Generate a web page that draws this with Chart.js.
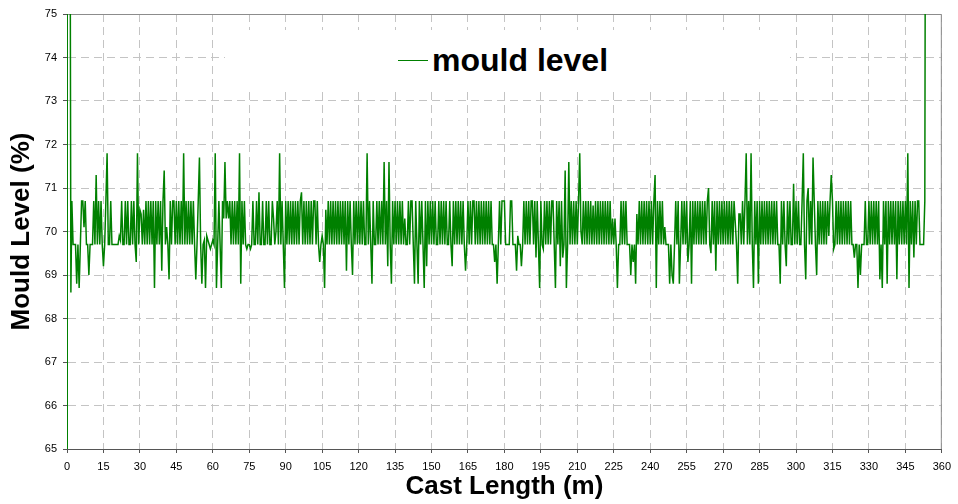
<!DOCTYPE html>
<html>
<head>
<meta charset="utf-8">
<script src="https://cdn.jsdelivr.net/npm/chart.js@4.4.1/dist/chart.umd.min.js"></script>
<style>
  body { margin: 0; background: #fff; }
  #wrap { position: relative; width: 958px; height: 504px; }
  #legend { position: absolute; left: 225px; top: 30px; width: 565px; height: 58px; background: #fff;
            font: bold 32px "Liberation Sans", Arial, sans-serif; color: #000; }
  #legend .swatch { position: absolute; left: 173px; top: 30px; width: 30px; border-top: 1.5px solid #008000; }
  #legend .label { position: absolute; left: 207px; top: 12px; line-height: 36px; white-space: nowrap; }
</style>
</head>
<body>
<div id="wrap">
  <canvas id="myChart" width="958" height="504"></canvas>
  <div id="legend"><span class="swatch"></span><span class="label">mould level</span></div>
</div>
<script>
// start of cast: the trace shoots off the top of the plot
var castHead = [0, 0.1, 1.2, 1.6];
var levelHead = [64, 80, 80, 68.6];

// readings every half metre, from 2 m to 352.5 m (one row = 15 m)
var firstMetre = 2;
var stepMetres = 0.5;
var mouldLevel = [
  70.7, 69.7, 69.7, 69.7, 68.8, 69.7, 68.7, 69.7, 70.7, 70.7, 70.1, 70.7, 69.7, 69.7, 69.0, 69.7, 69.7, 69.7, 70.7, 69.7, 71.3, 69.7, 70.7, 69.7, 70.7, 69.7,
  69.2, 69.7, 70.7, 71.8, 69.7, 69.7, 70.7, 69.7, 69.7, 69.7, 69.7, 69.7, 69.7, 69.9, 69.8, 70.7, 69.7, 69.7, 70.7, 69.7, 70.7, 69.7, 69.7, 70.7, 69.7, 70.7, 69.7, 69.3, 71.8, 69.7,
  70.5, 70.4, 69.7, 70.5, 69.7, 70.7, 69.7, 70.7, 69.7, 70.7, 69.7, 70.7, 68.7, 70.7, 69.7, 70.7, 69.7, 70.7, 69.1, 70.7, 71.4, 69.7, 70.1, 69.7, 68.9, 70.7, 69.7, 70.7, 70.7, 69.7,
  70.7, 69.7, 70.7, 69.7, 70.7, 69.7, 71.8, 69.7, 70.7, 69.7, 70.7, 69.7, 70.7, 69.7, 70.7, 69.7, 68.9, 69.7, 70.7, 71.7, 69.7, 68.8, 69.7, 69.8, 68.7, 69.9, 69.8, 69.7, 69.6, 69.7,
  69.8, 69.7, 71.8, 68.7, 69.7, 70.7, 69.7, 68.7, 70.7, 70.3, 71.6, 70.3, 70.7, 70.3, 70.7, 69.7, 70.7, 69.7, 70.7, 69.7, 70.7, 69.7, 71.8, 68.8, 70.7, 69.7, 70.7, 69.7, 69.6, 69.7,
  69.7, 69.6, 69.7, 70.7, 69.7, 69.7, 70.7, 69.7, 70.9, 69.7, 69.7, 70.7, 69.7, 69.7, 70.7, 69.7, 70.7, 69.7, 69.7, 70.7, 70.3, 69.7, 70.0, 70.7, 69.7, 71.8, 69.7, 70.7, 69.7, 68.7,
  70.7, 69.7, 70.7, 69.7, 70.7, 69.7, 70.7, 69.7, 70.7, 69.7, 70.7, 69.7, 70.7, 70.9, 69.7, 70.7, 69.7, 70.7, 69.7, 70.7, 69.7, 70.7, 69.7, 70.7, 70.7, 69.7, 70.7, 69.7, 69.3, 69.7,
  69.9, 69.7, 68.7, 70.5, 69.7, 70.7, 69.7, 70.7, 69.7, 70.7, 69.7, 70.7, 69.7, 70.7, 69.7, 70.7, 69.7, 70.7, 69.7, 70.7, 69.1, 70.7, 69.7, 70.7, 69.7, 69.0, 70.7, 69.7, 70.7, 69.7,
  70.7, 69.7, 70.7, 69.7, 70.7, 69.7, 69.7, 71.8, 69.7, 70.7, 69.7, 68.8, 70.7, 69.7, 69.7, 70.7, 69.7, 70.7, 69.7, 70.7, 69.7, 71.6, 69.7, 70.7, 69.2, 71.6, 69.7, 68.8, 70.7, 69.7,
  70.7, 69.7, 70.7, 69.7, 70.7, 69.7, 70.7, 69.7, 70.3, 69.7, 69.7, 70.7, 69.7, 70.7, 70.7, 69.7, 68.8, 70.7, 69.7, 68.8, 70.7, 69.7, 70.7, 69.7, 68.7, 70.7, 69.2, 70.7, 69.7, 70.7,
  69.7, 70.7, 69.7, 70.7, 69.7, 69.7, 70.7, 69.7, 70.7, 69.7, 70.7, 69.7, 70.7, 69.7, 69.7, 70.7, 69.7, 69.2, 70.7, 69.7, 70.7, 69.7, 70.7, 69.7, 70.7, 69.7, 70.7, 69.7, 69.1, 69.7,
  70.7, 69.7, 70.7, 69.7, 70.7, 70.7, 69.7, 70.7, 69.7, 70.7, 69.7, 70.7, 69.7, 70.7, 69.7, 70.7, 69.7, 70.7, 69.7, 70.7, 69.7, 69.7, 69.3, 69.7, 68.8, 69.7, 70.7, 69.7, 70.7, 70.7,
  70.7, 69.7, 69.7, 69.7, 69.7, 70.7, 70.7, 69.7, 69.7, 69.7, 69.1, 69.9, 69.7, 69.7, 69.2, 69.7, 70.7, 69.7, 70.7, 69.7, 70.7, 69.7, 70.7, 70.7, 69.7, 70.7, 69.4, 70.7, 69.7, 68.7,
  70.7, 69.7, 69.6, 70.7, 69.7, 70.7, 69.7, 70.7, 69.7, 70.7, 70.7, 69.7, 68.7, 70.7, 69.7, 70.7, 69.2, 70.7, 69.4, 69.7, 71.4, 68.7, 69.7, 71.6, 69.7, 70.7, 69.7, 70.7, 69.7, 70.7,
  69.7, 70.7, 71.8, 70.0, 69.7, 70.7, 69.7, 70.7, 69.7, 70.7, 69.7, 70.7, 69.7, 70.6, 69.7, 70.7, 69.7, 70.7, 69.7, 70.7, 69.7, 70.7, 69.7, 70.7, 69.7, 70.7, 69.7, 70.7, 69.7, 70.3,
  69.7, 70.3, 69.7, 68.7, 69.7, 69.7, 70.7, 69.7, 70.7, 69.7, 70.7, 69.7, 69.7, 69.7, 69.0, 69.7, 69.3, 69.7, 68.8, 70.4, 69.7, 70.7, 69.7, 70.7, 69.7, 70.7, 69.7, 70.7, 69.7, 70.7,
  69.7, 70.7, 69.7, 70.7, 71.3, 68.7, 70.7, 69.7, 70.7, 69.7, 70.7, 69.7, 70.1, 69.7, 69.7, 69.7, 68.8, 69.7, 69.0, 68.8, 69.7, 70.7, 69.7, 70.7, 68.8, 69.7, 70.7, 69.7, 70.7, 69.7,
  70.7, 69.3, 69.7, 70.7, 68.8, 70.7, 69.7, 70.7, 69.7, 70.7, 69.7, 70.7, 69.7, 70.7, 69.7, 70.7, 69.7, 70.7, 71.0, 69.7, 69.5, 70.7, 69.7, 70.7, 69.1, 70.7, 69.7, 70.7, 69.7, 70.7,
  69.7, 70.7, 69.7, 70.7, 69.7, 70.7, 69.7, 70.7, 69.7, 70.7, 70.2, 69.7, 68.8, 70.4, 70.4, 69.7, 70.7, 69.7, 70.7, 71.8, 69.7, 70.7, 69.7, 71.8, 69.7, 68.7, 70.7, 69.7, 70.7, 68.8,
  70.7, 69.7, 70.7, 69.7, 70.7, 69.7, 70.7, 69.7, 70.7, 69.7, 70.7, 69.7, 70.7, 69.7, 70.7, 69.7, 69.7, 68.8, 70.7, 69.7, 70.7, 69.7, 69.2, 70.7, 69.7, 70.7, 69.7, 69.7, 71.1, 69.7,
  70.7, 69.7, 70.7, 69.7, 69.7, 70.7, 71.8, 69.7, 68.9, 70.7, 71.0, 69.7, 70.7, 69.7, 71.7, 70.7, 69.7, 69.0, 70.7, 69.7, 70.7, 69.7, 70.7, 69.7, 70.7, 69.7, 70.7, 69.9, 70.7, 71.3,
  70.7, 69.6, 69.7, 70.7, 69.7, 70.7, 69.7, 70.7, 69.7, 70.7, 69.7, 70.7, 69.7, 70.7, 69.7, 70.7, 69.7, 69.7, 69.4, 69.7, 69.7, 68.7, 69.7, 69.0, 69.7, 69.7, 69.7, 70.7, 69.7, 69.7,
  70.7, 69.7, 70.7, 69.7, 70.7, 69.7, 70.7, 69.7, 70.7, 68.9, 69.7, 68.7, 70.7, 69.7, 70.7, 68.8, 70.7, 69.7, 70.7, 69.7, 70.7, 69.7, 70.7, 68.9, 70.7, 69.7, 70.7, 69.7, 70.7, 69.7,
  70.7, 69.7, 71.8, 68.7, 70.7, 69.7, 70.7, 69.4, 70.7, 69.7, 70.7, 70.7, 69.7, 69.7, 69.7, 69.7
];

// end of cast: the trace goes off the top again
var castTail = [353.0, 353.3];
var levelTail = [70.7, 80];

var points = [];
castHead.forEach(function (x, i) { points.push({x: x, y: levelHead[i]}); });
mouldLevel.forEach(function (v, i) { points.push({x: firstMetre + i * stepMetres, y: v}); });
castTail.forEach(function (x, i) { points.push({x: x, y: levelTail[i]}); });

var fontFamily = '"Liberation Sans", Arial, sans-serif';

// grey frame round the plot area
var frame = {
  id: 'frame',
  beforeDatasetsDraw: function (chart) {
    var a = chart.chartArea, c = chart.ctx;
    c.save();
    c.strokeStyle = '#8c8c8c';
    c.lineWidth = 1;
    c.beginPath();
    c.moveTo(a.left, a.top + 0.5);
    c.lineTo(a.right - 0.5, a.top + 0.5);
    c.lineTo(a.right - 0.5, a.bottom);
    c.stroke();
    c.restore();
  }
};

var ctx = document.getElementById('myChart').getContext('2d');
var myChart = new Chart(ctx, {
  type: 'line',
  data: {
    datasets: [{
      label: 'mould level',
      data: points,
      borderColor: '#008000',
      backgroundColor: '#008000',
      borderWidth: 1.5,
      pointRadius: 0,
      tension: 0,
      fill: false
    }]
  },
  options: {
    responsive: false,
    animation: false,
    layout: { padding: { left: 0, top: 14, right: 11, bottom: 0 } },
    plugins: {
      legend: { display: false },
      tooltip: { enabled: false }
    },
    scales: {
      x: {
        type: 'linear',
        min: 0,
        max: 360,
        afterFit: function (s) { s.height = 55; },
        ticks: { stepSize: 15, color: '#000', padding: 7, maxRotation: 0,
                 font: { family: fontFamily, size: 11 } },
        grid: { color: '#c4c4c4', tickLength: 4, tickColor: '#555', tickBorderDash: [] },
        border: { color: '#555', dash: [8, 5] },
        title: { display: true, text: 'Cast Length (m)', color: '#000',
                 padding: { top: 0, bottom: 2 },
                 font: { family: fontFamily, size: 26, weight: 'bold' } }
      },
      y: {
        min: 65,
        max: 75,
        afterFit: function (s) { s.width = 67; },
        ticks: { stepSize: 1, color: '#000', padding: 6,
                 font: { family: fontFamily, size: 11 } },
        grid: { color: '#c4c4c4', tickLength: 4, tickColor: '#555', tickBorderDash: [] },
        border: { color: '#555', dash: [8, 5] },
        title: { display: true, text: 'Mould Level (%)', color: '#000',
                 padding: { top: 6, bottom: 0 },
                 font: { family: fontFamily, size: 26, weight: 'bold' } }
      }
    }
  },
  plugins: [frame]
});
</script>
</body>
</html>
